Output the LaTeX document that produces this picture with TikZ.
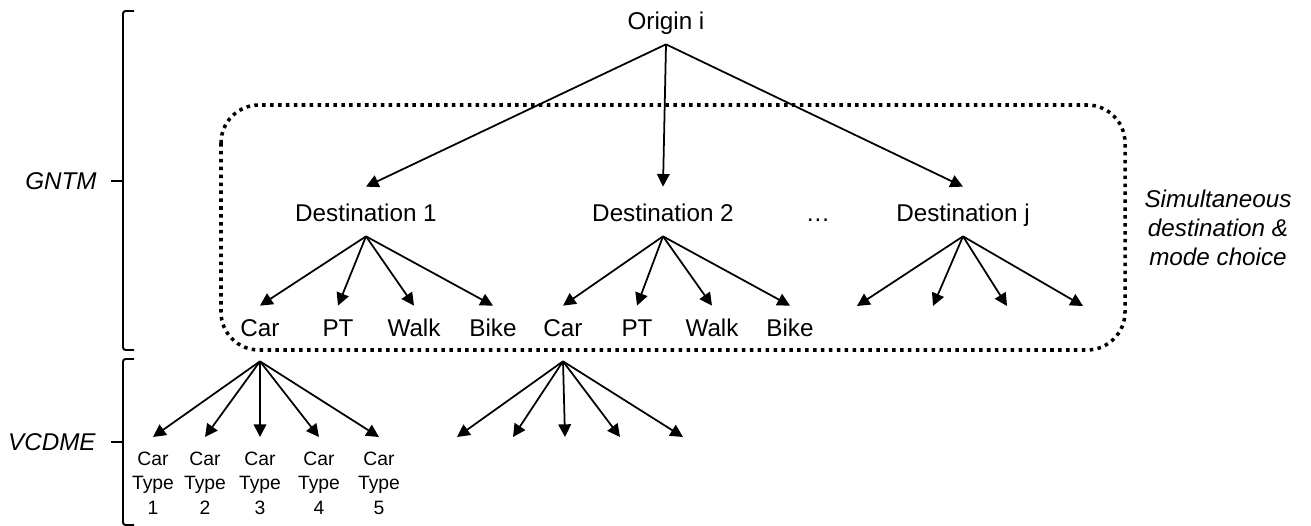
\documentclass[tikz,border=0pt]{standalone}
\usepackage{fontspec}
\setmainfont{Liberation Sans}
\usetikzlibrary{arrows.meta}
\tikzset{
  big/.style={font=\fontsize{13.8}{16.5}\selectfont,inner sep=0pt,anchor=base},
  dest/.style={big,text height=0.7cm,text depth=0.28cm},
  mode/.style={big,text height=0.62cm,text depth=0.48cm},
  ctype/.style={font=\fontsize{11}{13.9}\selectfont,align=center,inner sep=0pt,outer sep=0.3cm,anchor=north},
  side/.style={big,font=\fontsize{13.8}{16.5}\selectfont\itshape},
  arr/.style={->,line width=1pt},
  brace/.style={line width=1.1pt,rounded corners=1.5pt}
}
\begin{document}
\begin{tikzpicture}[x=0.02cm,y=-0.02cm,>={Triangle[length=7.2pt,width=7.2pt]}]
\useasboundingbox (0,0) rectangle (1311,526);
% top levels
\node[dest] (orig) at (666,30) {Origin i};
\node[dest] (d1) at (366,222) {Destination 1};
\node[dest] (d2) at (663,222) {Destination 2};
\node[dest] (dots) at (818,222) {…};
\node[dest] (dj) at (963,222) {Destination j};
\foreach \d in {d1,d2,dj}
  \draw[arr] (orig.south) -- (\d.north);
% modes
\foreach \n/\x/\t in {m1/260/Car,m2/338/PT,m3/414/Walk,m4/493/Bike,m5/563/Car,m6/637/PT,m7/712/Walk,m8/790/Bike}
  \node[mode] (\n) at (\x,337) {\t};
\foreach \m in {m1,m2,m3,m4}
  \draw[arr] (d1.south) -- (\m.north);
\foreach \m in {m5,m6,m7,m8}
  \draw[arr] (d2.south) -- (\m.north);
\foreach \i/\x in {1/857,2/933,3/1007,4/1083}
  \coordinate (j\i) at (\x,306);
\foreach \i in {1,...,4}
  \draw[arr] (dj.south) -- (j\i);
% car types
\foreach \i/\x in {1/153,2/205,3/260,4/319,5/379}
  \node[ctype] (t\i) at (\x,437) {Car\\Type\\\i};
\foreach \i in {1,...,5}
  \draw[arr] (m1.south) -- (t\i.north);
\foreach \i/\x in {1/457,2/513,3/565,4/620,5/683}
  \coordinate (c\i) at (\x,437);
\foreach \i in {1,...,5}
  \draw[arr] (m5.south) -- (c\i);
% nest box
\draw[line width=2pt,dash pattern=on 2pt off 2.5pt,rounded corners=0.76cm] (221,105) rectangle (1125,350);
\node[side,align=center,anchor=center] (sim) at (1218,228) {Simultaneous\\destination \&\\mode choice};
% braces
\draw[brace] (134,11) -- (123,11) -- (123,350) -- (134,350);
\draw[brace] (111,181) -- (123,181);
\draw[brace] (134,359) -- (123,359) -- (123,525) -- (134,525);
\draw[brace] (111,442) -- (123,442);
\node[side,anchor=east] (gntm) at (97,181) {GNTM};
\node[side,anchor=east] (vcdme) at (96,442) {VCDME};
\end{tikzpicture}
\end{document}
